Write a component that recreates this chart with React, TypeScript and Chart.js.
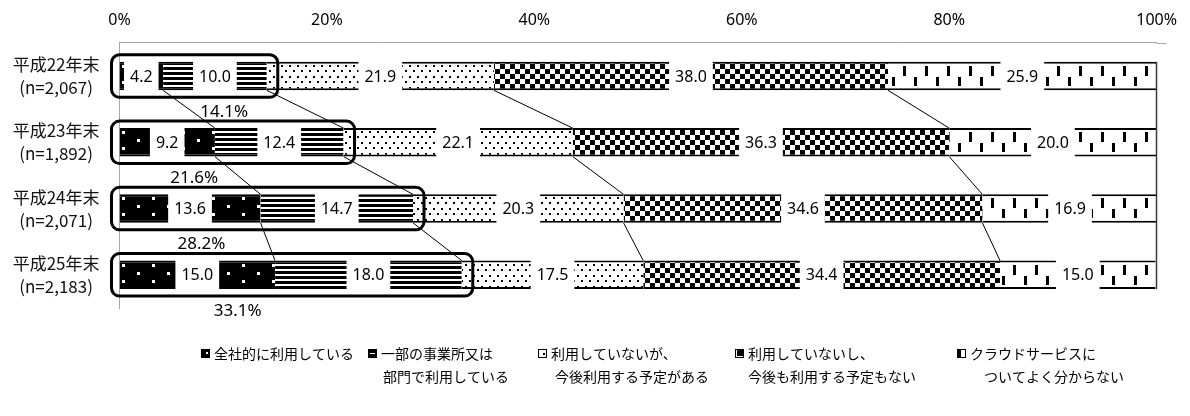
import React, { useEffect, useRef } from 'react';
import { Chart, registerables } from 'chart.js';

Chart.register(...registerables);

// ---------- data ----------
const categories: string[][] = [
  ['平成22年末', '(n=2,067)'],
  ['平成23年末', '(n=1,892)'],
  ['平成24年末', '(n=2,071)'],
  ['平成25年末', '(n=2,183)'],
];
const seriesNames: string[][] = [
  ['全社的に利用している'],
  ['一部の事業所又は', '部門で利用している'],
  ['利用していないが、', '今後利用する予定がある'],
  ['利用していないし、', '今後も利用する予定もない'],
  ['クラウドサービスに', 'ついてよく分からない'],
];
const allCompany = [4.2, 9.2, 13.6, 15.0];
const someDept = [10.0, 12.4, 14.7, 18.0];
const planned = [21.9, 22.1, 20.3, 17.5];
const noPlan = [38.0, 36.3, 34.6, 34.4];
const unknown = [25.9, 20.0, 16.9, 15.0];
const usingTotal = [14.1, 21.6, 28.2, 33.1];
const xTickStep = 20;

// ---------- layout / style constants ----------
const BAR_PCT = 0.43;
const TOTAL_LABEL_AT = [10.1, 7.2, 7.9, 11.4]; // x (in %) where the hand-placed total labels sit
const LEGEND_X = [201, 368, 538, 735, 957];
const LEGEND_INDENT = [0, 2, 4, 0, 14];
const LEGEND_Y = 354;
const JP = '"Noto Sans CJK JP", "Noto Sans", sans-serif';
const NUM = '"Noto Sans", "Liberation Sans", sans-serif';

function tile(w: number, h: number, draw: (g: CanvasRenderingContext2D) => void) {
  const c = document.createElement('canvas');
  c.width = w;
  c.height = h;
  const g = c.getContext('2d')!;
  draw(g);
  return c;
}

function makeTiles() {
  const t1 = tile(30, 16, (g) => {
    g.fillStyle = '#000'; g.fillRect(0, 0, 30, 16);
    g.fillStyle = '#fff'; g.fillRect(2, 3, 3, 3); g.fillRect(17, 11, 3, 3);
  });
  const t2 = tile(4, 5, (g) => {
    g.fillStyle = '#fff'; g.fillRect(0, 0, 4, 5);
    g.fillStyle = '#000'; g.fillRect(0, 0, 4, 3);
  });
  const t3 = tile(8, 11, (g) => {
    g.fillStyle = '#fff'; g.fillRect(0, 0, 8, 11);
    g.fillStyle = '#000'; g.fillRect(1, 3, 2, 2); g.fillRect(5, 8, 2, 2);
  });
  const t4 = tile(10, 10, (g) => {
    g.fillStyle = '#fff'; g.fillRect(0, 0, 10, 10);
    g.fillStyle = '#000'; g.fillRect(0, 2, 5, 5); g.fillRect(5, 7, 5, 3); g.fillRect(5, 0, 5, 2);
  });
  const t5 = tile(22, 24, (g) => {
    g.fillStyle = '#fff'; g.fillRect(0, 0, 22, 24);
    g.fillStyle = '#000'; g.fillRect(1, 4, 3, 10); g.fillRect(12, 15, 3, 11);
  });
  return [t1, t2, t3, t4, t5];
}

export default function App() {
  const ref = useRef<HTMLCanvasElement | null>(null);

  useEffect(() => {
    document.body.style.margin = '0';
    const canvas = ref.current!;
    const tiles = makeTiles();

    const patternFor = (t: HTMLCanvasElement, fallback: string) => (c: any) => {
      const chart = c.chart;
      const ys = chart.scales && chart.scales.y;
      if (c.type !== 'data' || !ys) return fallback;
      const cy = ys.getPixelForValue(c.dataIndex);
      const band = ys.height / categories.length;
      const th = band * BAR_PCT;
      const p = chart.ctx.createPattern(t, 'repeat');
      p.setTransform(new DOMMatrix().translate(0, Math.round(cy - th / 2)));
      return p;
    };

    const seriesData = [allCompany, someDept, planned, noPlan, unknown];
    const fallbacks = ['#000', '#333', '#ddd', '#777', '#bbb'];

    const datasets = seriesData.map((d, i) => ({
      label: seriesNames[i].join(''),
      data: d,
      backgroundColor: patternFor(tiles[i], fallbacks[i]),
      borderColor: '#000',
      borderWidth: { top: 2, bottom: 2, left: 0, right: 0 },
      borderSkipped: false,
      categoryPercentage: 1,
      barPercentage: BAR_PCT,
    }));

    const overlay = {
      id: 'overlay',
      afterDatasetsDraw(chart: any) {
        const ctx: CanvasRenderingContext2D = chart.ctx;
        const xs = chart.scales.x;
        const metas = chart.data.datasets.map((_: any, i: number) => chart.getDatasetMeta(i));
        const bars = (di: number, i: number) =>
          metas[di].data[i].getProps(['x', 'y', 'base', 'height'], true);

        ctx.save();
        // value labels with white boxes
        ctx.font = `16px ${NUM}`;
        ctx.textAlign = 'center';
        ctx.textBaseline = 'middle';
        metas.forEach((meta: any, di: number) => {
          meta.data.forEach((_: any, i: number) => {
            const b = bars(di, i);
            const v = chart.data.datasets[di].data[i] as number;
            const txt = v.toFixed(1);
            const w = ctx.measureText(txt).width + 12;
            const cx = (b.x + b.base) / 2;
            ctx.fillStyle = '#fff';
            ctx.fillRect(cx - w / 2, b.y - b.height / 2 - 1, w, b.height + 2);
            ctx.fillStyle = '#000';
            ctx.fillText(txt, cx, b.y + 1);
          });
        });

        // series lines
        ctx.strokeStyle = '#000';
        ctx.lineWidth = 1;
        for (let k = 0; k < 4; k++) {
          for (let i = 0; i < categories.length - 1; i++) {
            const a = bars(k, i);
            const c = bars(k, i + 1);
            ctx.beginPath();
            ctx.moveTo(a.x, a.y + a.height / 2);
            ctx.lineTo(c.x, c.y - c.height / 2);
            ctx.stroke();
          }
        }
        // 100% line
        const first = bars(4, 0);
        const last = bars(4, categories.length - 1);
        const x100 = Math.round(xs.getPixelForValue(100)) - 0.5;
        ctx.strokeStyle = '#3a3a3a';
        ctx.lineWidth = 1.5;
        ctx.beginPath();
        ctx.moveTo(x100, first.y - first.height / 2);
        ctx.lineTo(x100, last.y + last.height / 2);
        ctx.stroke();

        // top axis line extension
        ctx.strokeStyle = '#a6a6a6';
        ctx.lineWidth = 1;
        ctx.beginPath();
        ctx.moveTo(chart.chartArea.right, chart.chartArea.top + 0.5);
        ctx.lineTo(chart.chartArea.right + 10, chart.chartArea.top + 0.5);
        ctx.stroke();

        // rounded boxes + totals
        const x0 = xs.getPixelForValue(0);
        for (let i = 0; i < categories.length; i++) {
          const b = bars(1, i);
          const top = b.y - b.height / 2 - 7;
          const bottom = b.y + b.height / 2 + 7;
          ctx.strokeStyle = '#000';
          ctx.lineWidth = 3;
          ctx.beginPath();
          (ctx as any).roundRect(x0 - 8, top, b.x + 11 - (x0 - 8), bottom - top, 8);
          ctx.stroke();

          ctx.fillStyle = '#000';
          ctx.font = `17px ${NUM}`;
          ctx.textAlign = 'center';
          ctx.textBaseline = 'middle';
          ctx.fillText(usingTotal[i].toFixed(1) + '%', xs.getPixelForValue(TOTAL_LABEL_AT[i]), b.y + 36);
        }
        ctx.restore();
      },
      afterDraw(chart: any) {
        const ctx: CanvasRenderingContext2D = chart.ctx;
        ctx.save();
        ctx.font = `14px ${JP}`;
        ctx.textAlign = 'left';
        ctx.textBaseline = 'middle';
        seriesNames.forEach((lines, i) => {
          const ix = LEGEND_X[i];
          const iy = LEGEND_Y - 5;
          const s = 9;
          // icon
          ctx.fillStyle = '#fff';
          ctx.fillRect(ix, iy, s, s);
          ctx.fillStyle = '#000';
          if (i === 0) {
            ctx.fillRect(ix, iy, s, s);
            ctx.fillStyle = '#fff';
            ctx.fillRect(ix + 5, iy + 3, 2, 2);
          } else if (i === 1) {
            ctx.fillRect(ix, iy, s, s);
            ctx.fillStyle = '#fff';
            ctx.fillRect(ix + 2, iy + 4, 5, 1);
          } else if (i === 2) {
            ctx.strokeStyle = '#000';
            ctx.lineWidth = 1;
            ctx.strokeRect(ix + 0.5, iy + 0.5, s - 1, s - 1);
            ctx.fillRect(ix + 5, iy + 4, 2, 2);
          } else if (i === 3) {
            ctx.fillRect(ix, iy, s, s);
            ctx.fillStyle = '#fff';
            ctx.fillRect(ix + 1, iy + 1, 1, s - 2);
            ctx.fillRect(ix + 1, iy + s - 2, s - 2, 1);
          } else {
            ctx.strokeStyle = '#000';
            ctx.lineWidth = 1;
            ctx.strokeRect(ix + 0.5, iy + 0.5, s - 1, s - 1);
            ctx.fillRect(ix, iy, 4, s);
          }
          ctx.fillStyle = '#000';
          lines.forEach((t, j) => ctx.fillText(t, ix + 13 + (j ? LEGEND_INDENT[i] : 0), LEGEND_Y + j * 23));
        });
        ctx.restore();
      },
    };

    const chart = new Chart(canvas, {
      type: 'bar',
      data: { labels: categories as any, datasets: datasets as any },
      options: {
        indexAxis: 'y',
        responsive: false,
        animation: false,
        devicePixelRatio: 1,
        layout: { padding: { top: 0, right: 28, bottom: 108, left: 0 } },
        plugins: { legend: { display: false }, tooltip: { enabled: false } },
        scales: {
          x: {
            position: 'top',
            stacked: true,
            min: 0,
            max: 100,
            grid: { display: false, drawTicks: false },
            border: { display: true, color: '#a6a6a6', width: 1 },
            ticks: {
              stepSize: xTickStep,
              callback: (v: any) => v + '%',
              font: { family: NUM, size: 16 },
              color: '#000',
              padding: 13,
              maxRotation: 0,
            },
            afterFit: (s: any) => { s.height = 42; },
          },
          y: {
            stacked: true,
            grid: { display: false, drawTicks: false },
            border: { display: true, color: '#a6a6a6', width: 1 },
            ticks: {
              font: { family: JP, size: 17, lineHeight: 1.35 },
              color: '#111',
              padding: 20,
              crossAlign: 'center',
            },
            afterFit: (s: any) => { s.width = 119.5; },
          },
        },
      } as any,
      plugins: [overlay],
    });
    return () => chart.destroy();
  }, []);

  return (
    <div style={{ width: 1190, height: 416, background: '#fff' }}>
      <canvas ref={ref} width={1190} height={416} style={{ width: 1190, height: 416, display: 'block' }} />
    </div>
  );
}
